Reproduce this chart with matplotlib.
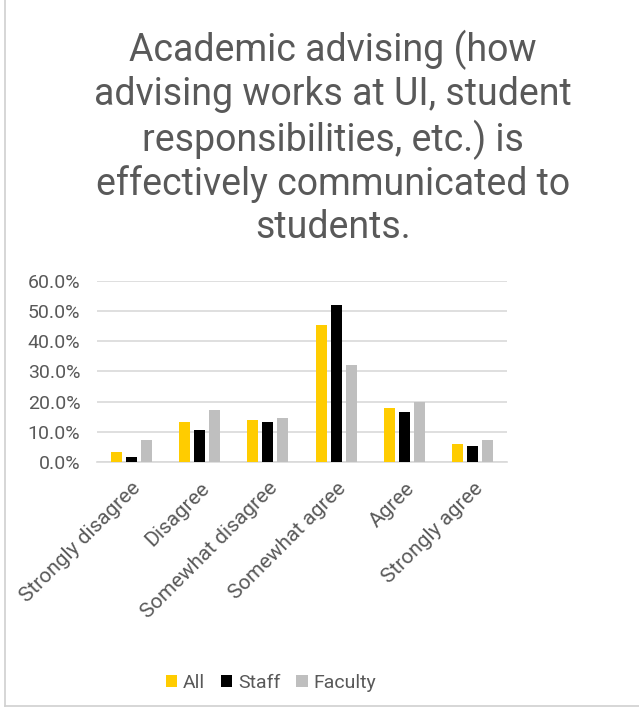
import matplotlib.pyplot as plt
import numpy as np
from matplotlib.lines import Line2D

categories = ['Strongly disagree', 'Disagree', 'Somewhat disagree',
              'Somewhat agree', 'Agree', 'Strongly agree']
all_vals = [3.4, 13.2, 13.9, 45.2, 17.8, 6.1]
staff_vals = [1.5, 10.6, 13.2, 51.9, 16.5, 5.4]
faculty_vals = [7.3, 17.2, 14.5, 32.2, 19.8, 7.3]
series = ['All', 'Staff', 'Faculty']
colors = ['#FFCC00', '#000000', '#BFBFBF']

title = ('Academic advising (how\nadvising works at UI, student\n'
         'responsibilities, etc.) is\neffectively communicated to\nstudents.')

plt.rcParams['font.family'] = ['Roboto', 'DejaVu Sans']
txt = '#595959'

fig = plt.figure(figsize=(6.39, 7.15), dpi=100)
ax = fig.add_axes([97 / 639, 1 - 462 / 715, 410 / 639, 181.5 / 715])

x = np.arange(len(categories))
w = 0.16
step = 0.22
for i, (vals, c, lab) in enumerate(zip([all_vals, staff_vals, faculty_vals], colors, series)):
    ax.bar(x + (i - 1) * step, vals, width=w, color=c, label=lab, zorder=3)

ax.set_xlim(-0.5, len(categories) - 0.5)
ax.set_ylim(0, 60)
ax.set_yticks(np.arange(0, 61, 10))
ax.set_yticklabels([f'{v:.1f}%' for v in np.arange(0, 61, 10)], fontsize=14, color=txt)
ax.set_xticks(x)
ax.set_xticklabels(categories, rotation=45, ha='right', rotation_mode='anchor',
                   fontsize=15, color=txt)
ax.tick_params(axis='y', length=0, pad=12)
ax.tick_params(axis='x', length=0, pad=12)
ax.yaxis.grid(True, color='#D9D9D9', linewidth=1.2, zorder=0)
for s in ['top', 'right', 'left']:
    ax.spines[s].set_visible(False)
ax.spines['bottom'].set_color('#D9D9D9')
ax.spines['bottom'].set_linewidth(1.2)

fig.text(333 / 639, 1 - 30 / 715, title, ha='center', va='top', fontsize=27,
         color=txt, linespacing=1.2)

fig.legend(loc='center', bbox_to_anchor=(271 / 639, 1 - 683 / 715), ncol=3,
           frameon=False, fontsize=14, handlelength=0.6, handleheight=0.6,
           handletextpad=0.3, columnspacing=0.8, labelcolor=txt)

# outer border (left and bottom edges)
fig.add_artist(Line2D([5 / 639, 5 / 639], [0.013, 1], color='#D0D0D0', lw=1.2))
fig.add_artist(Line2D([5 / 639, 1], [0.013, 0.013], color='#D0D0D0', lw=1.2))

fig.savefig('out.png', dpi=100)
